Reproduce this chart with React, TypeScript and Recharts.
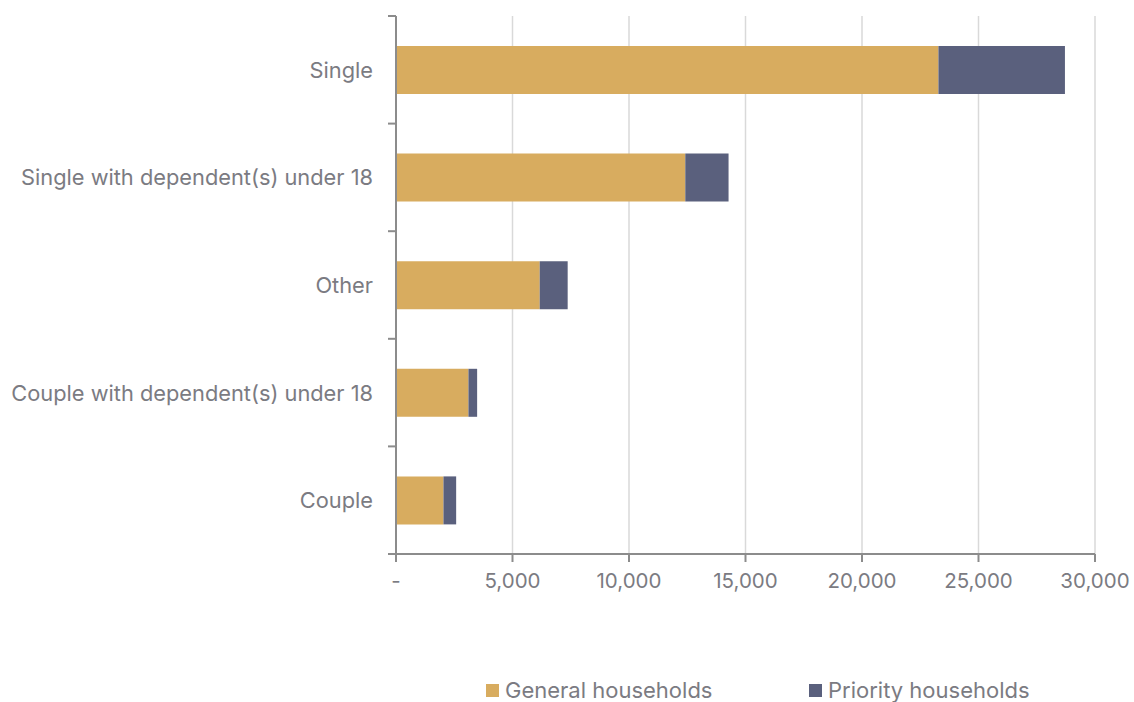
import React from 'react';
import { BarChart, Bar, XAxis, YAxis, CartesianGrid, Legend } from 'recharts';

const categories = ['Single', 'Single with dependent(s) under 18', 'Other', 'Couple with dependent(s) under 18', 'Couple'];
const generalHouseholds = [23280, 12416, 6168, 3109, 2037];
const priorityHouseholds = [5430, 1857, 1200, 373, 545];
const xTicks = [0, 5000, 10000, 15000, 20000, 25000, 30000];
const seriesNames = ['General households', 'Priority households'];
const colors = ['#D8AC5F', '#5A607D'];

const data = categories.map((c, i) => ({
  name: c,
  general: generalHouseholds[i],
  priority: priorityHouseholds[i],
}));

const FONT = 'Inter, "Noto Sans", sans-serif';
const TEXT = '#7b7b82';
const AXIS = '#8c8c8c';

const YTick = (props: any) => {
  const { x, y, payload, index, visibleTicksCount } = props;
  const half = payload && payload.offset ? payload.offset : 53.8;
  const ax = x + 23;
  return (
    <g>
      <text x={x} y={y} textAnchor="end" dominantBaseline="central" fill={TEXT} fontSize={21.8} fontFamily={FONT}>
        {payload.value}
      </text>
      <line x1={ax - 8} x2={ax} y1={y - half} y2={y - half} stroke={AXIS} strokeWidth={2} />
      {index === (visibleTicksCount ?? categories.length) - 1 && (
        <line x1={ax - 8} x2={ax} y1={y + half} y2={y + half} stroke={AXIS} strokeWidth={2} />
      )}
    </g>
  );
};

const LegendContent = () => (
  <div style={{ fontFamily: FONT, fontSize: 22, color: TEXT }}>
    {seriesNames.map((n, i) => (
      <div key={n} style={{ position: 'absolute', left: i === 0 ? 486 : 809, top: 0, display: 'flex', alignItems: 'center', whiteSpace: 'nowrap' }}>
        <span style={{ display: 'inline-block', width: 13, height: 13, background: colors[i], marginRight: 6 }} />
        <span>{n}</span>
      </div>
    ))}
  </div>
);

export default function App() {
  return (
    <div style={{ position: 'absolute', left: 0, top: 0, background: '#fff' }}>
      <BarChart
        width={1134}
        height={702}
        data={data}
        layout="vertical"
        margin={{ top: 16, right: 39, left: 0, bottom: 88 }}
        barSize={48}
      >
        <CartesianGrid horizontal={false} stroke="#d9d9d9" strokeWidth={1.5} />
        <XAxis
          type="number"
          domain={[0, 30000]}
          ticks={xTicks}
          interval={0}
          height={60}
          tickFormatter={(v: number) => (v === 0 ? '-' : v.toLocaleString('en-US'))}
          tick={{ fill: TEXT, fontSize: 20.5, fontFamily: FONT }}
          tickSize={8}
          tickMargin={11}
          stroke={AXIS}
          axisLine={{ stroke: AXIS, strokeWidth: 2 }}
          tickLine={{ stroke: AXIS, strokeWidth: 2 }}
        />
        <YAxis
          type="category"
          dataKey="name"
          width={396}
          interval={0}
          tickSize={0}
          tickMargin={23}
          tick={<YTick />}
          axisLine={{ stroke: AXIS, strokeWidth: 2 }}
          tickLine={false}
        />
        <Legend
          verticalAlign="middle"
          align="center"
          wrapperStyle={{ position: 'absolute', top: 677, left: 0, width: 1134, height: 28 }}
          content={<LegendContent />}
        />
        <Bar dataKey="general" name={seriesNames[0]} stackId="a" fill={colors[0]} isAnimationActive={false} />
        <Bar dataKey="priority" name={seriesNames[1]} stackId="a" fill={colors[1]} isAnimationActive={false} />
      </BarChart>
    </div>
  );
}
